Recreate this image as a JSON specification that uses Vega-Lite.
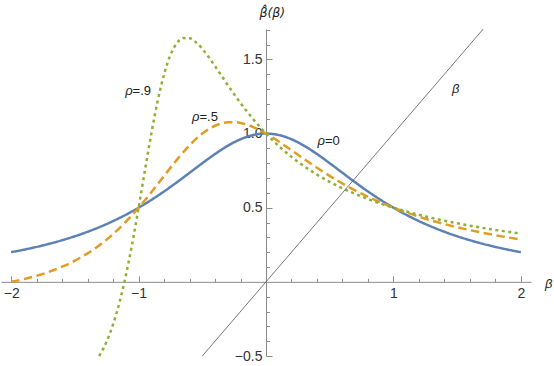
{
  "$schema": "https://vega.github.io/schema/vega-lite/v6.json",
  "width": 530,
  "height": 327,
  "autosize": {"type": "none"},
  "padding": {"left": 1, "top": 29, "right": 23, "bottom": 10},
  "background": "white",
  "config": {"view": {"stroke": null}, "font": "Liberation Sans"},
  "resolve": {"axis": {"x": "independent", "y": "independent"}},
  "datasets": {
    "curves": [
      {"s":"0","b":-2,"v":0.2},{"s":"0","b":-1.9,"v":0.21692},{"s":"0","b":-1.8,"v":0.23585},{"s":"0","b":-1.7,"v":0.25707},{"s":"0","b":-1.6,"v":0.2809},{"s":"0","b":-1.5,"v":0.30769},{"s":"0","b":-1.4,"v":0.33784},{"s":"0","b":-1.3,"v":0.37175},{"s":"0","b":-1.2,"v":0.40984},{"s":"0","b":-1.1,"v":0.45249},{"s":"0","b":-1,"v":0.5},{"s":"0","b":-0.9,"v":0.55249},{"s":"0","b":-0.8,"v":0.60976},{"s":"0","b":-0.7,"v":0.67114},{"s":"0","b":-0.6,"v":0.73529},{"s":"0","b":-0.5,"v":0.8},{"s":"0","b":-0.4,"v":0.86207},{"s":"0","b":-0.3,"v":0.91743},{"s":"0","b":-0.2,"v":0.96154},{"s":"0","b":-0.1,"v":0.9901},{"s":"0","b":0,"v":1},
      {"s":"0","b":0.1,"v":0.9901},{"s":"0","b":0.2,"v":0.96154},{"s":"0","b":0.3,"v":0.91743},{"s":"0","b":0.4,"v":0.86207},{"s":"0","b":0.5,"v":0.8},{"s":"0","b":0.6,"v":0.73529},{"s":"0","b":0.7,"v":0.67114},{"s":"0","b":0.8,"v":0.60976},{"s":"0","b":0.9,"v":0.55249},{"s":"0","b":1,"v":0.5},{"s":"0","b":1.1,"v":0.45249},{"s":"0","b":1.2,"v":0.40984},{"s":"0","b":1.3,"v":0.37175},{"s":"0","b":1.4,"v":0.33784},{"s":"0","b":1.5,"v":0.30769},{"s":"0","b":1.6,"v":0.2809},{"s":"0","b":1.7,"v":0.25707},{"s":"0","b":1.8,"v":0.23585},{"s":"0","b":1.9,"v":0.21692},{"s":"0","b":2,"v":0.2},

      {"s":"0.5","b":-2,"v":0},{"s":"0.5","b":-1.9,"v":0.01845},{"s":"0.5","b":-1.8,"v":0.04098},{"s":"0.5","b":-1.7,"v":0.06849},{"s":"0.5","b":-1.6,"v":0.10204},{"s":"0.5","b":-1.5,"v":0.14286},{"s":"0.5","b":-1.4,"v":0.19231},{"s":"0.5","b":-1.3,"v":0.2518},{"s":"0.5","b":-1.2,"v":0.32258},{"s":"0.5","b":-1.1,"v":0.40541},{"s":"0.5","b":-1,"v":0.5},{"s":"0.5","b":-0.9,"v":0.6044},{"s":"0.5","b":-0.8,"v":0.71429},{"s":"0.5","b":-0.7,"v":0.82278},{"s":"0.5","b":-0.6,"v":0.92105},{"s":"0.5","b":-0.5,"v":1.0},{"s":"0.5","b":-0.4,"v":1.05263},{"s":"0.5","b":-0.35,"v":1.06796},{"s":"0.5","b":-0.3,"v":1.07595},{"s":"0.5","b":-0.25,"v":1.07692},{"s":"0.5","b":-0.2,"v":1.07143},{"s":"0.5","b":-0.15,"v":1.06017},{"s":"0.5","b":-0.1,"v":1.04396},{"s":"0.5","b":0,"v":1},
      {"s":"0.5","b":0.1,"v":0.94595},{"s":"0.5","b":0.2,"v":0.8871},{"s":"0.5","b":0.3,"v":0.82734},{"s":"0.5","b":0.4,"v":0.76923},{"s":"0.5","b":0.5,"v":0.71429},{"s":"0.5","b":0.6,"v":0.66327},{"s":"0.5","b":0.7,"v":0.61644},{"s":"0.5","b":0.8,"v":0.57377},{"s":"0.5","b":0.9,"v":0.53506},{"s":"0.5","b":1,"v":0.5},{"s":"0.5","b":1.1,"v":0.46828},{"s":"0.5","b":1.2,"v":0.43956},{"s":"0.5","b":1.3,"v":0.41353},{"s":"0.5","b":1.4,"v":0.38991},{"s":"0.5","b":1.5,"v":0.36842},{"s":"0.5","b":1.6,"v":0.34884},{"s":"0.5","b":1.7,"v":0.33095},{"s":"0.5","b":1.8,"v":0.31457},{"s":"0.5","b":1.9,"v":0.29954},{"s":"0.5","b":2,"v":0.28571},

      {"s":"0.9","b":-1.31,"v":-0.5},{"s":"0.9","b":-1.3,"v":-0.48571},{"s":"0.9","b":-1.25,"v":-0.4},{"s":"0.9","b":-1.2,"v":-0.28571},{"s":"0.9","b":-1.15,"v":-0.13861},{"s":"0.9","b":-1.1,"v":0.04348},{"s":"0.9","b":-1.05,"v":0.25882},{"s":"0.9","b":-1,"v":0.5},{"s":"0.9","b":-0.95,"v":0.75325},{"s":"0.9","b":-0.9,"v":1.0},{"s":"0.9","b":-0.85,"v":1.22078},{"s":"0.9","b":-0.8,"v":1.4},{"s":"0.9","b":-0.75,"v":1.52941},{"s":"0.9","b":-0.7,"v":1.6087},{"s":"0.9","b":-0.65,"v":1.64356},{"s":"0.9","b":-0.6,"v":1.64286},{"s":"0.9","b":-0.55,"v":1.616},{"s":"0.9","b":-0.5,"v":1.57143},{"s":"0.9","b":-0.45,"v":1.51592},{"s":"0.9","b":-0.4,"v":1.45455},{"s":"0.9","b":-0.35,"v":1.39086},{"s":"0.9","b":-0.3,"v":1.32727},{"s":"0.9","b":-0.25,"v":1.26531},{"s":"0.9","b":-0.2,"v":1.20588},{"s":"0.9","b":-0.15,"v":1.1495},{"s":"0.9","b":-0.1,"v":1.09639},{"s":"0.9","b":-0.05,"v":1.04658},{"s":"0.9","b":0,"v":1},
      {"s":"0.9","b":0.1,"v":0.91597},{"s":"0.9","b":0.2,"v":0.84286},{"s":"0.9","b":0.3,"v":0.77914},{"s":"0.9","b":0.4,"v":0.7234},{"s":"0.9","b":0.5,"v":0.67442},{"s":"0.9","b":0.6,"v":0.63115},{"s":"0.9","b":0.7,"v":0.59273},{"s":"0.9","b":0.8,"v":0.55844},{"s":"0.9","b":0.9,"v":0.5277},{"s":"0.9","b":1,"v":0.5},{"s":"0.9","b":1.1,"v":0.47494},{"s":"0.9","b":1.2,"v":0.45217},{"s":"0.9","b":1.3,"v":0.43141},{"s":"0.9","b":1.4,"v":0.41241},{"s":"0.9","b":1.5,"v":0.39496},{"s":"0.9","b":1.6,"v":0.37888},{"s":"0.9","b":1.7,"v":0.36403},{"s":"0.9","b":1.8,"v":0.35027},{"s":"0.9","b":1.9,"v":0.33748},{"s":"0.9","b":2,"v":0.32558}
    ],
    "ident": [{"b": -0.5, "v": -0.5}, {"b": 1.705, "v": 1.705}],
    "rho": [
      {"x": -1.047, "y": 1.287, "t": "ρ"},
      {"x": -0.522, "y": 1.111, "t": "ρ"},
      {"x": 0.463, "y": 0.949, "t": "ρ"}
    ],
    "eq": [
      {"x": -1.047, "y": 1.287, "t": "=.9"},
      {"x": -0.522, "y": 1.111, "t": "=.5"},
      {"x": 0.463, "y": 0.949, "t": "=0"}
    ],
    "ital": [
      {"x": 1.49, "y": 1.3, "t": "β"},
      {"x": 2.22, "y": -0.015, "t": "β"}
    ],
    "ytitle": [
      {"x": 0.05, "y": 1.81, "t": "β̂(β)"}
    ]
  },
  "layer": [
    {
      "data": {"name": "curves"},
      "mark": {"type": "line", "strokeWidth": 2.5, "strokeCap": "butt", "interpolate": "monotone"},
      "encoding": {
        "x": {
          "field": "b", "type": "quantitative",
          "scale": {"domain": [-2.08, 2.08], "nice": false, "zero": false},
          "axis": {
            "orient": "bottom",
            "values": [-2, -1, 1, 2],
            "format": ".0f",
            "offset": -74.15,
            "tickSize": -6,
            "grid": false, "title": null,
            "domainColor": "#8c8c8c", "tickColor": "#8c8c8c",
            "labelFont": "Liberation Sans", "labelFontSize": 14, "labelColor": "#333333",
            "labelPadding": 11, "labelFlush": false, "labelOverlap": false
          }
        },
        "y": {
          "field": "v", "type": "quantitative",
          "scale": {"domain": [-0.5, 1.705], "nice": false, "zero": false},
          "axis": {
            "orient": "left",
            "values": [-0.5, 0.5, 1, 1.5],
            "format": ".1f",
            "offset": -265,
            "tickSize": -6,
            "grid": false, "title": null,
            "domainColor": "#8c8c8c", "tickColor": "#8c8c8c",
            "labelFont": "Liberation Sans", "labelFontSize": 14, "labelColor": "#333333",
            "labelPadding": 10, "labelFlush": false, "labelOverlap": false
          }
        },
        "color": {"field": "s", "type": "nominal", "scale": {"domain": ["0", "0.5", "0.9"], "range": ["#5E81B5", "#E19C24", "#8FB032"]}, "legend": null},
        "strokeDash": {"field": "s", "type": "nominal", "scale": {"domain": ["0", "0.5", "0.9"], "range": [[1, 0], [8.5, 4.5], [3, 3.5]]}, "legend": null}
      }
    },
    {
      "data": {"name": "ident"},
      "mark": {"type": "line", "strokeWidth": 0.8, "color": "#555555"},
      "encoding": {
        "x": {
          "field": "b", "type": "quantitative",
          "axis": {
            "orient": "bottom",
            "values": [-1.8,-1.6,-1.4,-1.2,-0.8,-0.6,-0.4,-0.2,0.2,0.4,0.6,0.8,1.2,1.4,1.6,1.8],
            "offset": -74.15, "tickSize": -3.5, "labels": false, "domain": false,
            "grid": false, "title": null, "tickColor": "#8c8c8c"
          }
        },
        "y": {
          "field": "v", "type": "quantitative",
          "axis": {
            "orient": "left",
            "values": [-0.4,-0.3,-0.2,-0.1,0.1,0.2,0.3,0.4,0.6,0.7,0.8,0.9,1.1,1.2,1.3,1.4,1.6,1.7],
            "offset": -265, "tickSize": -3.5, "labels": false, "domain": false,
            "grid": false, "title": null, "tickColor": "#8c8c8c"
          }
        }
      }
    },
    {
      "data": {"name": "rho"},
      "mark": {"type": "text", "align": "right", "baseline": "middle", "fontSize": 13, "fontStyle": "italic", "color": "#222222"},
      "encoding": {
        "x": {"field": "x", "type": "quantitative", "axis": null},
        "y": {"field": "y", "type": "quantitative", "axis": null},
        "text": {"field": "t"}
      }
    },
    {
      "data": {"name": "eq"},
      "mark": {"type": "text", "align": "left", "baseline": "middle", "fontSize": 13, "color": "#222222"},
      "encoding": {
        "x": {"field": "x", "type": "quantitative", "axis": null},
        "y": {"field": "y", "type": "quantitative", "axis": null},
        "text": {"field": "t"}
      }
    },
    {
      "data": {"name": "ital"},
      "mark": {"type": "text", "align": "center", "baseline": "middle", "fontSize": 13, "fontStyle": "italic", "color": "#222222"},
      "encoding": {
        "x": {"field": "x", "type": "quantitative", "axis": null},
        "y": {"field": "y", "type": "quantitative", "axis": null},
        "text": {"field": "t"}
      }
    },
    {
      "data": {"name": "ytitle"},
      "mark": {"type": "text", "align": "center", "baseline": "middle", "fontSize": 12.5, "font": "DejaVu Sans", "fontStyle": "italic", "color": "#222222"},
      "encoding": {
        "x": {"field": "x", "type": "quantitative", "axis": null},
        "y": {"field": "y", "type": "quantitative", "axis": null},
        "text": {"field": "t"}
      }
    }
  ]
}
